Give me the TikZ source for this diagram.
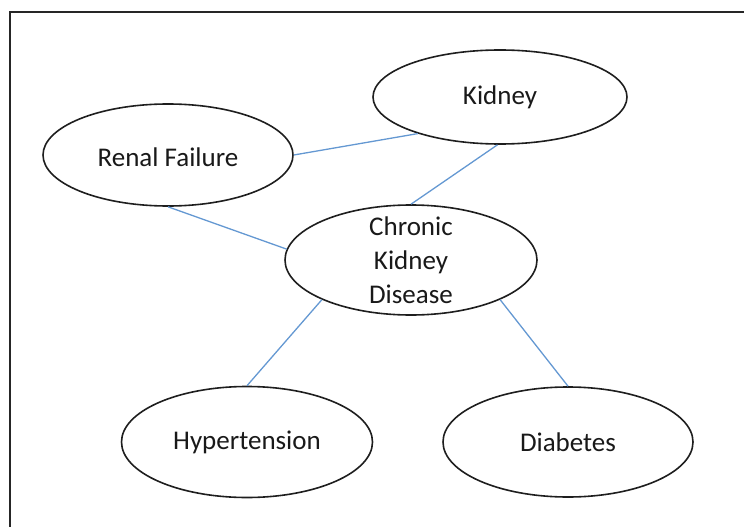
\documentclass[tikz,border=0pt]{standalone}
\usepackage{fontspec}
\setmainfont{Carlito}
\usetikzlibrary{shapes.geometric}
\definecolor{linkblue}{RGB}{100,152,210}
\definecolor{rim}{RGB}{30,30,30}
\tikzset{
  topic/.style={ellipse, draw=rim, line width=1.6pt, inner sep=0pt,
    minimum width=#1},
  caption/.style={align=center, font=\fontsize{27}{34}\selectfont, text=black!90},
  link/.style={draw=linkblue, line width=1.3pt},
  frame/.style={line width=2.4pt, draw=black!85}
}
\begin{document}
\begin{tikzpicture}[x=1pt,y=-1pt]
  \useasboundingbox (0,0) rectangle (744,527);
  % page frame (top and left rules)
  \coordinate (frameBL) at (10,530);
  \coordinate (frameTL) at (10,12);
  \coordinate (frameTR) at (750,12);
  \draw[frame] (frameBL) -- (frameTL) -- (frameTR);

  % topics
  \node[topic=254pt, minimum height=94pt]  (kidney) at (500,97)  {};
  \node[topic=250pt, minimum height=102pt] (renal)  at (168,155) {};
  \node[topic=252pt, minimum height=110pt] (ckd)    at (411,260) {};
  \node[topic=251pt, minimum height=111pt] (hyper)  at (247,442) {};
  \node[topic=250pt, minimum height=110pt] (diab)   at (568,442) {};

  \node[caption] (kidneyT) at (kidney.center) {Kidney};
  \node[caption] (renalT)  at ([yshift=-2pt]renal.center) {Renal Failure};
  \node[caption] (ckdT)    at (ckd.center) {Chronic\\Kidney\\Disease};
  \node[caption] (hyperT)  at (hyper.center) {Hypertension};
  \node[caption] (diabT)   at (diab.center) {Diabetes};

  % connections
  \draw[link] (renal.east) -- (kidney.204);
  \draw[link] (kidney.267) -- (ckd.north);
  \draw[link] (renal.south) -- (ckd.175);
  \draw[link] (ckd.204) -- (hyper.north);
  \draw[link] (ckd.336) -- (diab.north);
\end{tikzpicture}
\end{document}
